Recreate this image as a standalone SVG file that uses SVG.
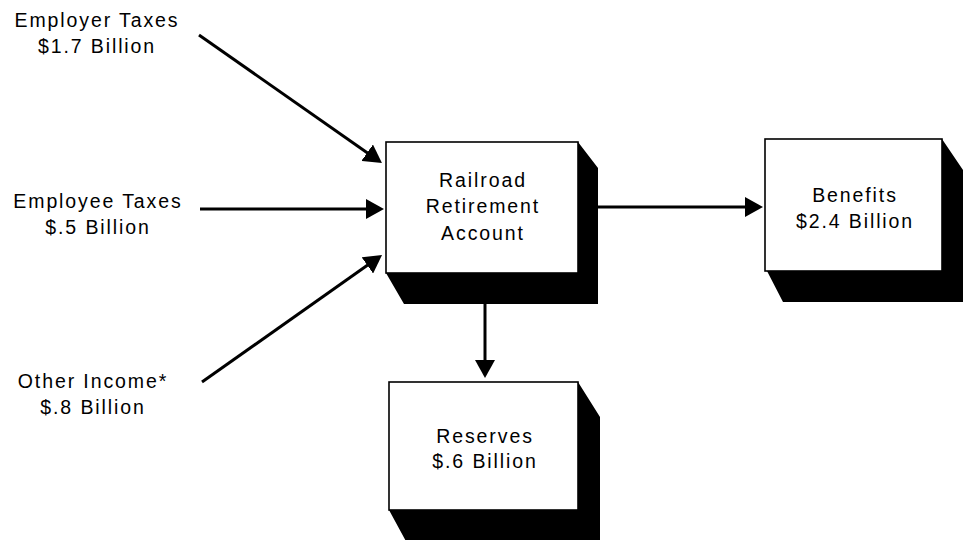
<svg xmlns="http://www.w3.org/2000/svg" width="972" height="540" viewBox="0 0 972 540">
<defs>
<style>
text{font-family:"Liberation Sans",Arial,Helvetica,sans-serif;font-size:19.5px;letter-spacing:1.9px;fill:#000;text-anchor:middle}
.face{fill:#fff;stroke:#000;stroke-width:1.6}
.shadow{fill:#000}
.conn{stroke:#000;stroke-width:3;fill:none;marker-end:url(#ah)}
</style>
<marker id="ah" viewBox="0 0 18 20" refX="10" refY="10" markerWidth="18" markerHeight="20" markerUnits="userSpaceOnUse" orient="auto">
<path d="M0,0 L18,10 L0,20 Z" fill="#000"/>
</marker>
</defs>
<rect width="972" height="540" fill="#fff"/>

<g id="connectors">
<line class="conn" x1="199" y1="35" x2="375.4" y2="158.4"/>
<line class="conn" x1="200" y1="209" x2="376" y2="209"/>
<line class="conn" x1="202" y1="382" x2="375.5" y2="259.6"/>
<line class="conn" x1="598" y1="207" x2="755" y2="207"/>
<line class="conn" x1="485" y1="304" x2="485" y2="370"/>
</g>

<g id="employer-taxes">
<text x="97" y="27">Employer Taxes</text>
<text x="97" y="53">$1.7 Billion</text>
</g>
<g id="employee-taxes">
<text x="98" y="208">Employee Taxes</text>
<text x="98" y="234">$.5 Billion</text>
</g>
<g id="other-income">
<text x="93" y="388">Other Income*</text>
<text x="93" y="414">$.8 Billion</text>
</g>

<g id="railroad-retirement-account">
<polygon class="shadow" points="578,142 598,168 598,304 404,304 386,273 578,273"/>
<rect class="face" x="386" y="142" width="192" height="131"/>
<text x="483" y="187">Railroad</text>
<text x="483" y="213">Retirement</text>
<text x="483" y="240">Account</text>
</g>

<g id="benefits">
<polygon class="shadow" points="942,139 963,170 963,302 783,302 767,271 942,271"/>
<rect class="face" x="765" y="139" width="177" height="132"/>
<text x="855" y="202">Benefits</text>
<text x="855" y="228">$2.4 Billion</text>
</g>

<g id="reserves">
<polygon class="shadow" points="578,382 600,417 600,545 408,545 389,510 578,510"/>
<rect class="face" x="389" y="382" width="189" height="128"/>
<text x="485" y="443">Reserves</text>
<text x="485" y="468">$.6 Billion</text>
</g>
</svg>
